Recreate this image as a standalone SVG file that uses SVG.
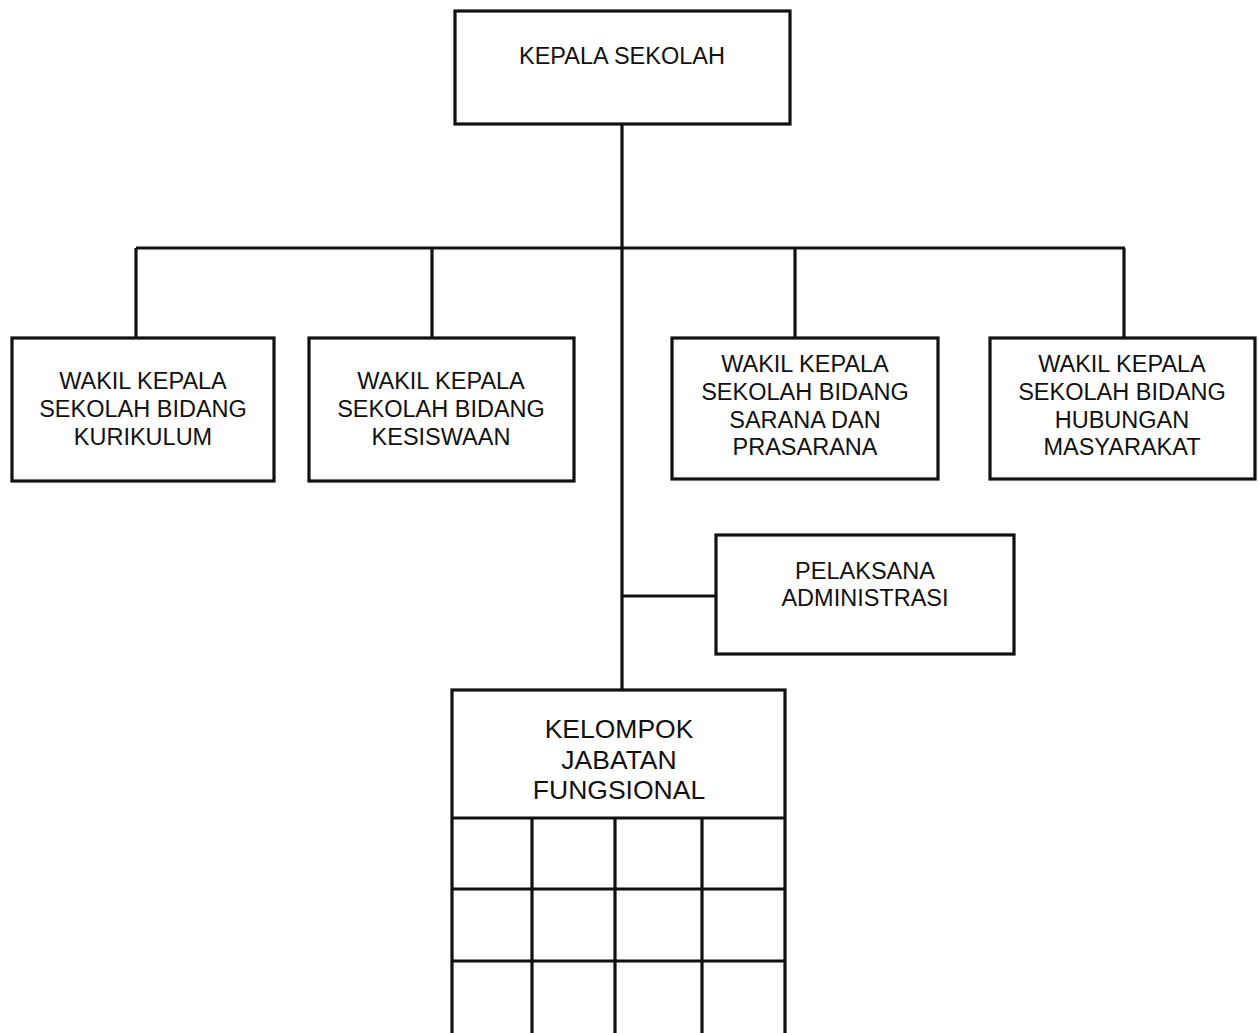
<svg xmlns="http://www.w3.org/2000/svg" width="1259" height="1033" viewBox="0 0 1259 1033">
<style>
.box{fill:#fff;stroke:#111;stroke-width:3.2}
.ln{stroke:#111;stroke-width:3.2;fill:none}
text{font-family:"Liberation Sans",Arial,sans-serif;font-size:23.5px;fill:#111;text-anchor:middle}
.big{font-size:26.5px}
</style>
<rect x="0" y="0" width="1259" height="1033" fill="#fff"/>
<g id="connectors">
<line class="ln" x1="622" y1="124" x2="622" y2="690"/>
<line class="ln" x1="136" y1="248" x2="1125" y2="248"/>
<line class="ln" x1="136" y1="248" x2="136" y2="338"/>
<line class="ln" x1="432" y1="248" x2="432" y2="338"/>
<line class="ln" x1="795" y1="248" x2="795" y2="338"/>
<line class="ln" x1="1124" y1="248" x2="1124" y2="338"/>
<line class="ln" x1="622" y1="596" x2="716" y2="596"/>
</g>
<g id="kepala">
<rect class="box" x="455" y="11" width="335" height="113"/>
<text x="622" y="64">KEPALA SEKOLAH</text>
</g>
<g id="kurikulum">
<rect class="box" x="12" y="338" width="262" height="143"/>
<text x="143" y="389">WAKIL KEPALA</text>
<text x="143" y="417">SEKOLAH BIDANG</text>
<text x="143" y="445">KURIKULUM</text>
</g>
<g id="kesiswaan">
<rect class="box" x="309" y="338" width="265" height="143"/>
<text x="441" y="389">WAKIL KEPALA</text>
<text x="441" y="417">SEKOLAH BIDANG</text>
<text x="441" y="445">KESISWAAN</text>
</g>
<g id="sarana">
<rect class="box" x="672" y="338" width="266" height="141"/>
<text x="805" y="372">WAKIL KEPALA</text>
<text x="805" y="400">SEKOLAH BIDANG</text>
<text x="805" y="428">SARANA DAN</text>
<text x="805" y="455">PRASARANA</text>
</g>
<g id="humas">
<rect class="box" x="990" y="338" width="265" height="141"/>
<text x="1122" y="372">WAKIL KEPALA</text>
<text x="1122" y="400">SEKOLAH BIDANG</text>
<text x="1122" y="428">HUBUNGAN</text>
<text x="1122" y="455">MASYARAKAT</text>
</g>
<g id="pelaksana">
<rect class="box" x="716" y="535" width="298" height="119"/>
<text x="865" y="579">PELAKSANA</text>
<text x="865" y="606">ADMINISTRASI</text>
</g>
<g id="kelompok">
<rect class="box" x="452" y="690" width="333" height="360"/>
<line class="ln" x1="452" y1="818" x2="785" y2="818"/>
<line class="ln" x1="452" y1="889" x2="785" y2="889"/>
<line class="ln" x1="452" y1="961" x2="785" y2="961"/>
<line class="ln" x1="532" y1="818" x2="532" y2="1033"/>
<line class="ln" x1="615" y1="818" x2="615" y2="1033"/>
<line class="ln" x1="702" y1="818" x2="702" y2="1033"/>
<text class="big" x="619" y="738">KELOMPOK</text>
<text class="big" x="619" y="769">JABATAN</text>
<text class="big" x="619" y="799">FUNGSIONAL</text>
</g>
</svg>
